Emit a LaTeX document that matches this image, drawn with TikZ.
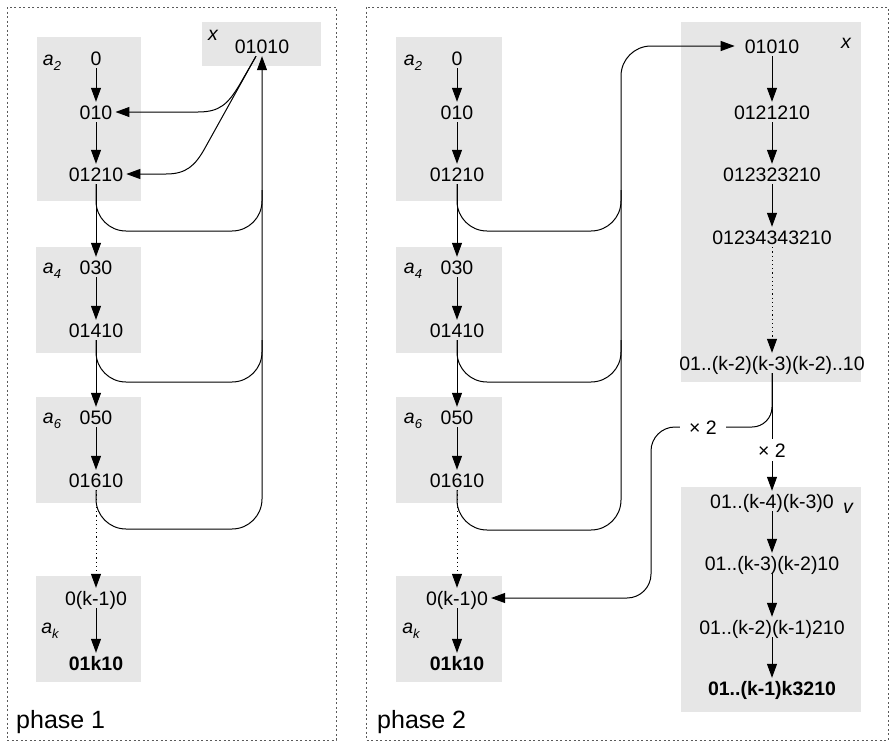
\documentclass[tikz,border=0pt]{standalone}
\usepackage{fontspec}
\setmainfont{Liberation Sans}
\usetikzlibrary{arrows.meta}
\definecolor{boxgray}{RGB}{230,230,230}
\definecolor{panelgray}{RGB}{90,90,90}
\newcommand{\sub}[1]{\raisebox{-5pt}{\fontsize{13}{14}\selectfont\itshape #1}}
\begin{document}
\begin{tikzpicture}[x=1pt,y=-1pt,
  txt/.style={font=\fontsize{19.5}{22}\selectfont, inner sep=3pt, text height=14pt, text depth=0pt},
  bld/.style={txt, font=\fontsize{19.5}{22}\selectfont\bfseries},
  lbl/.style={font=\fontsize{19.5}{22}\selectfont\itshape, inner sep=0pt},
  gbox/.style={fill=boxgray, draw=none, inner sep=0pt, anchor=north west},
  conn/.style={line width=1pt, black},
  arr/.style={conn, -{Triangle[length=14pt,width=10pt]}},
  dotarr/.style={arr, dash pattern=on 1.2pt off 3pt},
  panel/.style={draw=panelgray, dash pattern=on 2pt off 2.5pt, line width=0.8pt},
  phase/.style={font=\fontsize{25}{28}\selectfont, inner sep=0pt, anchor=base west}]
\useasboundingbox (0,0) rectangle (891,742);
% panels
\draw[panel] (7,7) rectangle (336,740);
\draw[panel] (366,7) rectangle (888,740);
% grey boxes, left
\node[gbox, minimum width=104pt, minimum height=164pt] (bA2L) at (37,37) {};
\node[gbox, minimum width=105pt, minimum height=106pt] (bA4L) at (36,247) {};
\node[gbox, minimum width=105pt, minimum height=106pt] (bA6L) at (36,397) {};
\node[gbox, minimum width=105pt, minimum height=106pt] (bAkL) at (36,576) {};
\node[gbox, minimum width=119pt, minimum height=44pt] (bXL) at (202,22) {};
% grey boxes, right
\node[gbox, minimum width=106pt, minimum height=164pt] (bA2R) at (396,37) {};
\node[gbox, minimum width=106pt, minimum height=106pt] (bA4R) at (396,247) {};
\node[gbox, minimum width=106pt, minimum height=106pt] (bA6R) at (396,397) {};
\node[gbox, minimum width=106pt, minimum height=106pt] (bAkR) at (396,576) {};
\node[gbox, minimum width=180pt, minimum height=360pt] (bXR) at (681,22) {};
\node[gbox, minimum width=180pt, minimum height=225pt] (bVR) at (681,487) {};
% labels
\node[lbl] (la2L) at (52,63) {a\sub{2}};
\node[lbl] (la4L) at (52,271) {a\sub{4}};
\node[lbl] (la6L) at (52,421) {a\sub{6}};
\node[lbl] (lakL) at (50,631) {a\sub{k}};
\node[lbl] (lxL) at (213,35) {x};
\node[lbl] (la2R) at (413,63) {a\sub{2}};
\node[lbl] (la4R) at (413,271) {a\sub{4}};
\node[lbl] (la6R) at (413,421) {a\sub{6}};
\node[lbl] (lakR) at (411,631) {a\sub{k}};
\node[lbl] (lxR) at (846,43) {x};
\node[lbl] (lvR) at (848,508) {v};
\node[phase] (ph1) at (16,728) {phase 1};
\node[phase] (ph2) at (377,728) {phase 2};
% left texts
\node[txt] (l0) at (96,58) {0};
\node[txt] (l010) at (96,112) {010};
\node[txt] (l01210) at (96,174) {01210};
\node[txt] (l030) at (96,267) {030};
\node[txt] (l01410) at (96,330) {01410};
\node[txt] (l050) at (96,417) {050};
\node[txt] (l01610) at (96,480) {01610};
\node[txt] (l0k) at (96,598) {0(k-1)0};
\node[bld] (l01k10) at (96,663) {01k10};
\node[txt] (l1x) at (262,46) {01010};
% right texts
\node[txt] (r0) at (457,58) {0};
\node[txt] (r010) at (457,112) {010};
\node[txt] (r01210) at (457,174) {01210};
\node[txt] (r030) at (457,267) {030};
\node[txt] (r01410) at (457,330) {01410};
\node[txt] (r050) at (457,417) {050};
\node[txt] (r01610) at (457,480) {01610};
\node[txt] (r0k) at (457,598) {0(k-1)0};
\node[bld] (r01k10) at (457,663) {01k10};
\node[txt] (r1x) at (772,46) {01010};
\node[txt] (rx2) at (772,112) {0121210};
\node[txt] (rx3) at (772,174) {012323210};
\node[txt] (rx4) at (772,237) {01234343210};
\node[txt] (rxk) at (772,363) {01..(k-2)(k-3)(k-2)..10};
\node[txt, inner xsep=9pt] (t2a) at (703,427) {× 2};
\node[txt, inner ysep=4pt] (t2b) at (772,450) {× 2};
\node[txt] (rv1) at (772,501) {01..(k-4)(k-3)0};
\node[txt] (rv2) at (772,563) {01..(k-3)(k-2)10};
\node[txt] (rv3) at (772,627) {01..(k-2)(k-1)210};
\node[bld] (rv4) at (772,688) {01..(k-1)k3210};
% left arrows
\draw[arr] (l0) -- (l010);
\draw[arr] (l010) -- (l01210);
\draw[arr] (l01210) -- (l030);
\draw[arr] (l030) -- (l01410);
\draw[arr] (l01410) -- (l050);
\draw[arr] (l050) -- (l01610);
\draw[dotarr] (l01610) -- (l0k);
\draw[arr] (l0k) -- (l01k10);
\coordinate (bl1) at (262,231);
\coordinate (bl2) at (262,382);
\coordinate (bl3) at (262,529);
\coordinate (ml1) at (262,190);
\coordinate (ml2) at (262,340);
\draw[conn, rounded corners=30pt] (l01210.south) |- (bl1) -- (ml1);
\draw[conn, rounded corners=30pt] (l01410.south) |- (bl2) -- (ml2);
\draw[arr, rounded corners=30pt] (l01610.south) |- (bl3) -- (l1x.south);
\draw[arr] ([xshift=-6pt]l1x.south) -- (240,84) .. controls (228,104) and (220,112) .. (198,112) -- (l010.east);
\draw[arr] ([xshift=-6pt]l1x.south) -- (205,148) .. controls (195,166) and (186,174) .. (166,174) -- (l01210.east);
% right arrows
\draw[arr] (r0) -- (r010);
\draw[arr] (r010) -- (r01210);
\draw[arr] (r01210) -- (r030);
\draw[arr] (r030) -- (r01410);
\draw[arr] (r01410) -- (r050);
\draw[arr] (r050) -- (r01610);
\draw[dotarr] (r01610) -- (r0k);
\draw[arr] (r0k) -- (r01k10);
\coordinate (br1) at (621,231);
\coordinate (br2) at (621,382);
\coordinate (br3) at (621,530);
\coordinate (mr1) at (621,190);
\coordinate (mr2) at (621,340);
\draw[conn, rounded corners=30pt] (r01210.south) |- (br1) -- (mr1);
\draw[conn, rounded corners=30pt] (r01410.south) |- (br2) -- (mr2);
\draw[arr, rounded corners=30pt, shorten >=7pt] (r01610.south) |- (br3) |- (r1x.west);
\draw[arr] (r1x) -- (rx2);
\draw[arr] (rx2) -- (rx3);
\draw[arr] (rx3) -- (rx4);
\draw[dotarr] (rx4) -- (rxk);
\draw[conn] (rxk) -- (t2b);
\draw[arr] (t2b) -- (rv1);
\draw[arr] (rv1) -- (rv2);
\draw[arr] (rv2) -- (rv3);
\draw[arr] (rv3) -- (rv4);
\coordinate (tb) at (651,598);
\draw[conn, rounded corners=20pt] (rxk.south) |- (t2a.east);
\draw[arr, rounded corners=24pt] (t2a.west) -| (tb) -- (r0k.east);
\end{tikzpicture}
\end{document}
